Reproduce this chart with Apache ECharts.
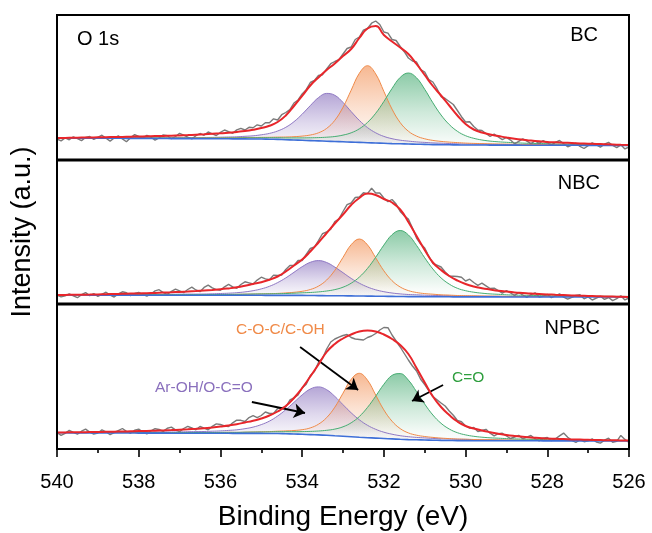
<!DOCTYPE html>
<html><head><meta charset="utf-8">
<script src="https://cdn.jsdelivr.net/npm/echarts@6/dist/echarts.min.js"></script>
<style>html,body{margin:0;padding:0;background:#fff}#c{width:652px;height:533px}</style>
</head><body><div id="c"></div>
<script>
// ---- sampling grids (binding energy, eV) ----
const fitEnergy = [540,539.8,539.6,539.4,539.2,539,538.8,538.6,538.4,538.2,538,537.8,537.6,537.4,537.2,537,536.8,536.6,536.4,536.2,536,535.8,535.6,535.4,535.2,535,534.8,534.6,534.4,534.2,534,533.8,533.6,533.4,533.2,533,532.8,532.6,532.4,532.2,532,531.8,531.6,531.4,531.2,531,530.8,530.6,530.4,530.2,530,529.8,529.6,529.4,529.2,529,528.8,528.6,528.4,528.2,528,527.8,527.6,527.4,527.2,527,526.8,526.6,526.4,526.2,526];
const rawEnergy = [540,539.9,539.8,539.7,539.6,539.5,539.4,539.3,539.2,539.1,
539,538.9,538.8,538.7,538.6,538.5,538.4,538.3,538.2,538.1,
538,537.9,537.8,537.7,537.6,537.5,537.4,537.3,537.2,537.1,
537,536.9,536.8,536.7,536.6,536.5,536.4,536.3,536.2,536.1,
536,535.9,535.8,535.7,535.6,535.5,535.4,535.3,535.2,535.1,
535,534.9,534.8,534.7,534.6,534.5,534.4,534.3,534.2,534.1,
534,533.9,533.8,533.7,533.6,533.5,533.4,533.3,533.2,533.1,
533,532.9,532.8,532.7,532.6,532.5,532.4,532.3,532.2,532.1,
532,531.9,531.8,531.7,531.6,531.5,531.4,531.3,531.2,531.1,
531,530.9,530.8,530.7,530.6,530.5,530.4,530.3,530.2,530.1,
530,529.9,529.8,529.7,529.6,529.5,529.4,529.3,529.2,529.1,
529,528.9,528.8,528.7,528.6,528.5,528.4,528.3,528.2,528.1,
528,527.9,527.8,527.7,527.6,527.5,527.4,527.3,527.2,527.1,
527,526.9,526.8,526.7,526.6,526.5,526.4,526.3,526.2,526.1,
526];
const xTicks = [540,538,536,534,532,530,528,526];

// ---- BC ----
const bcBase = [22.0,22.0,21.9,21.9,21.8,21.8,21.8,21.7,21.7,21.6,21.6,21.6,21.5,21.5,21.4,21.4,21.4,21.3,21.3,21.2,21.2,21.2,21.1,21.1,21.0,21.0,20.8,20.6,20.3,20.0,19.7,19.4,19.1,18.8,18.5,18.2,17.9,17.6,17.3,17.0,16.7,16.4,16.2,16.0,15.8,15.6,15.4,15.3,15.2,15.1,15.0,15.0,15.0,14.9,14.9,14.9,14.9,14.8,14.8,14.8,14.8,14.7,14.7,14.7,14.7,14.6,14.6,14.6,14.6,14.5,14.5];
const bcEnv = [22.0,22.1,22.2,22.4,22.5,22.7,22.8,23.0,23.1,23.3,23.5,23.7,23.9,24.1,24.3,24.6,24.9,25.3,25.7,26.2,26.7,27.3,28.1,29.0,30.3,32.0,34.3,38.0,44.5,54.0,64.0,74.5,82.5,90.0,96.5,104.0,111.0,122.0,131.5,134.0,125.0,118.5,112.5,106.0,96.0,85.0,74.0,64.5,54.5,44.5,36.0,30.5,27.5,25.5,24.0,22.5,21.2,20.2,19.4,18.7,18.1,17.7,17.3,17.0,16.6,16.3,16.0,15.8,15.5,15.2,15.0];
const bcPurple = [0.3,0.3,0.3,0.3,0.3,0.4,0.4,0.4,0.5,0.5,0.5,0.6,0.6,0.7,0.8,0.9,0.9,1.1,1.2,1.4,1.6,1.8,2.1,2.6,3.2,4.2,5.8,8.4,12.4,18.3,26.1,35.0,43.3,47.8,46.2,39.4,30.5,22.0,15.1,10.2,6.9,4.9,3.6,2.9,2.3,2.0,1.7,1.5,1.3,1.1,1.0,0.9,0.8,0.7,0.7,0.6,0.6,0.5,0.5,0.4,0.4,0.4,0.4,0.3,0.3,0.3,0.3,0.3,0.2,0.2,0.2];
const bcOrange = [0.2,0.2,0.2,0.2,0.3,0.3,0.3,0.3,0.3,0.3,0.4,0.4,0.4,0.5,0.5,0.6,0.6,0.7,0.7,0.8,0.9,1.0,1.1,1.3,1.4,1.6,1.9,2.3,2.7,3.3,4.2,5.6,8.1,12.8,21.2,34.5,51.9,69.1,77.0,69.1,51.9,34.5,21.2,12.8,8.1,5.6,4.2,3.3,2.7,2.3,1.9,1.6,1.4,1.3,1.1,1.0,0.9,0.8,0.7,0.7,0.6,0.6,0.5,0.5,0.5,0.4,0.4,0.4,0.3,0.3,0.3];
const bcGreen = [0.2,0.2,0.3,0.3,0.3,0.3,0.3,0.3,0.4,0.4,0.4,0.4,0.5,0.5,0.5,0.6,0.6,0.6,0.7,0.8,0.8,0.9,1.0,1.1,1.2,1.3,1.5,1.7,1.8,2.1,2.4,2.8,3.3,4.0,5.0,6.7,9.3,13.6,20.3,29.7,41.8,55.1,66.4,71.0,66.4,55.1,41.8,29.7,20.3,13.6,9.3,6.7,5.0,4.0,3.3,2.8,2.4,2.1,1.8,1.7,1.5,1.3,1.2,1.1,1.0,0.9,0.8,0.8,0.7,0.7,0.6];
const bcRaw = [21.0,19.1,22.1,20.2,23.2,21.3,19.4,22.5,23.5,20.6,22.7,24.8,21.8,18.9,22.0,24.1,21.1,18.2,22.3,25.4,23.5,21.6,24.7,22.8,19.9,22.0,25.1,24.2,21.3,23.5,26.6,24.8,22.9,21.1,24.3,26.5,24.7,28.0,26.2,24.5,27.7,30.0,28.3,26.7,30.1,31.6,30.0,32.7,32.3,35.2,34.0,37.2,37.3,41.2,40.0,45.3,47.5,50.3,57.0,60.0,66.0,70.3,77.5,79.5,84.5,85.3,91.0,96.3,98.5,100.3,106.0,111.5,113.0,120.5,123.0,129.8,131.5,136.8,139.0,135.5,128.0,126.8,120.5,119.5,113.5,108.3,102.0,99.0,98.0,90.5,88.0,80.5,78.0,71.3,63.5,61.5,58.5,55.5,49.5,43.3,38.0,38.3,33.5,30.0,29.5,26.5,23.5,25.8,23.0,20.3,22.5,19.9,16.2,18.7,21.2,18.8,16.4,19.1,16.7,19.4,17.1,14.9,17.7,19.5,16.3,13.2,15.0,16.8,13.6,11.5,14.3,17.2,15.0,12.9,15.8,17.7,14.5,12.4,15.2,11.1,13.0];

// ---- NBC ----
const nbcBase = [9.0,9.0,9.0,9.0,8.9,8.9,8.9,8.9,8.9,8.9,8.8,8.8,8.8,8.8,8.8,8.8,8.8,8.7,8.7,8.7,8.7,8.7,8.7,8.7,8.7,8.7,8.6,8.6,8.6,8.6,8.6,8.5,8.4,8.3,8.2,8.2,8.1,8.0,7.9,7.8,7.7,7.6,7.5,7.4,7.4,7.3,7.3,7.2,7.2,7.1,7.1,7.1,7.1,7.1,7.1,7.0,7.0,7.0,7.0,7.0,7.0,7.0,7.0,7.0,7.0,7.0,7.0,7.0,7.0,7.0,7.0];
const nbcEnv = [9.0,9.1,9.2,9.3,9.4,9.6,9.8,10.0,10.2,10.4,10.6,10.8,11.1,11.4,11.7,12.1,12.5,13.0,13.6,14.1,14.7,15.6,16.7,18.2,20.0,21.8,24.3,27.5,32.5,38.5,44.5,52.5,61.5,71.0,80.5,89.5,99.0,106.0,110.4,109.0,105.0,101.5,94.5,82.0,68.0,54.0,41.5,34.0,28.0,23.5,20.0,17.5,15.8,14.5,13.3,12.4,11.6,11.0,10.4,10.0,9.6,9.2,8.9,8.6,8.3,8.1,7.8,7.6,7.4,7.2,7.0];
const nbcPurple = [0.3,0.3,0.3,0.3,0.4,0.4,0.4,0.5,0.5,0.5,0.6,0.6,0.7,0.8,0.9,1.0,1.1,1.2,1.3,1.5,1.8,2.1,2.6,3.4,4.6,6.4,9.1,12.8,17.5,23.1,28.7,33.2,35.0,33.2,28.7,23.1,17.5,12.8,9.1,6.4,4.6,3.4,2.6,2.1,1.8,1.5,1.3,1.2,1.1,1.0,0.9,0.8,0.7,0.6,0.6,0.5,0.5,0.5,0.4,0.4,0.4,0.3,0.3,0.3,0.3,0.3,0.2,0.2,0.2,0.2,0.2];
const nbcOrange = [0.2,0.2,0.2,0.2,0.2,0.2,0.2,0.2,0.3,0.3,0.3,0.3,0.3,0.4,0.4,0.4,0.5,0.5,0.6,0.7,0.7,0.8,0.9,1.1,1.2,1.4,1.7,2.0,2.5,3.1,4.1,6.0,9.5,15.7,25.5,38.4,51.2,57.0,51.2,38.4,25.5,15.7,9.5,6.0,4.1,3.1,2.5,2.0,1.7,1.4,1.2,1.1,0.9,0.8,0.7,0.7,0.6,0.5,0.5,0.4,0.4,0.4,0.3,0.3,0.3,0.3,0.3,0.2,0.2,0.2,0.2];
const nbcGreen = [0.2,0.2,0.3,0.3,0.3,0.3,0.3,0.3,0.4,0.4,0.4,0.4,0.5,0.5,0.5,0.6,0.6,0.7,0.7,0.8,0.8,0.9,1.0,1.1,1.3,1.4,1.6,1.7,1.9,2.2,2.6,3.0,3.7,4.7,6.2,8.6,12.7,18.9,27.7,38.9,51.2,61.7,66.0,61.7,51.2,38.9,27.7,18.9,12.7,8.6,6.2,4.7,3.7,3.0,2.6,2.2,1.9,1.7,1.6,1.4,1.3,1.1,1.0,0.9,0.8,0.8,0.7,0.7,0.6,0.6,0.5];
const nbcRaw = [9.0,7.1,8.1,10.2,8.2,6.3,9.3,11.4,8.4,10.5,7.6,9.7,11.8,8.9,7.0,10.1,12.2,11.3,8.4,10.5,11.6,9.7,7.8,10.0,13.1,14.3,11.4,9.6,12.7,14.9,13.1,11.3,14.5,16.8,14.0,12.3,16.6,18.9,16.1,14.4,13.7,17.2,19.6,17.2,15.7,19.5,22.2,21.1,20.0,23.9,26.8,25.1,24.3,28.9,28.5,29.0,34.5,38.5,38.5,43.5,43.5,49.5,55.5,57.0,63.5,70.3,72.0,74.8,82.5,85.0,92.5,99.3,101.0,106.5,107.0,111.2,110.4,115.7,111.0,111.0,106.0,102.3,104.5,100.0,92.5,88.3,85.0,76.0,66.0,60.0,56.0,47.8,40.5,38.8,37.0,32.0,28.0,27.8,27.5,26.8,23.0,24.8,21.5,18.7,20.8,18.2,15.5,15.9,13.3,10.9,13.4,11.0,8.6,11.3,9.0,6.7,9.4,11.2,7.0,7.8,9.6,6.4,8.2,10.1,6.9,4.8,6.6,8.5,9.3,5.2,7.1,4.0,5.8,7.7,4.6,6.5,3.4,5.3,8.2,4.1,6.0];

// ---- NPBC ----
const npbcBase = [16.2,16.2,16.1,16.1,16.1,16.1,16.0,16.0,16.0,16.0,15.9,15.9,15.9,15.9,15.8,15.8,15.8,15.8,15.7,15.7,15.7,15.7,15.6,15.6,15.6,15.6,15.5,15.5,15.3,15.0,14.7,14.4,14.1,13.7,13.2,12.7,12.2,11.7,11.3,10.9,10.5,10.1,9.7,9.4,9.2,9.0,8.8,8.6,8.5,8.4,8.4,8.3,8.3,8.3,8.3,8.2,8.2,8.2,8.2,8.2,8.1,8.1,8.1,8.1,8.1,8.0,8.0,8.0,8.0,8.0,8.0];
const npbcEnv = [16.5,16.6,16.7,16.8,16.9,17.0,17.2,17.3,17.5,17.7,17.9,18.1,18.3,18.6,18.9,19.3,19.7,20.2,20.8,21.6,22.5,23.5,24.8,26.5,28.3,30.5,33.5,37.5,43.0,51.0,61.0,72.5,84.5,97.0,105.0,110.5,114.5,117.5,118.5,117.5,114.5,110.0,104.0,95.0,81.0,66.5,52.5,42.0,34.0,27.5,23.0,20.5,18.5,16.8,15.3,14.0,13.0,12.2,11.5,11.0,10.5,10.2,9.9,9.6,9.4,9.2,9.0,8.8,8.7,8.6,8.5];
const npbcPurple = [0.4,0.4,0.4,0.5,0.5,0.5,0.6,0.6,0.7,0.7,0.8,0.9,1.0,1.1,1.2,1.3,1.5,1.6,1.8,2.1,2.4,2.9,3.6,4.7,6.3,8.8,12.4,17.5,24.0,31.6,39.4,45.6,48.0,45.6,39.4,31.6,24.0,17.5,12.4,8.8,6.3,4.7,3.6,2.9,2.4,2.1,1.8,1.6,1.5,1.3,1.2,1.1,1.0,0.9,0.8,0.7,0.7,0.6,0.6,0.5,0.5,0.5,0.4,0.4,0.4,0.4,0.3,0.3,0.3,0.3,0.3];
const npbcOrange = [0.2,0.2,0.2,0.2,0.2,0.2,0.3,0.3,0.3,0.3,0.3,0.4,0.4,0.4,0.5,0.5,0.6,0.6,0.7,0.8,0.8,1.0,1.0,1.2,1.4,1.6,1.9,2.3,2.8,3.5,4.6,6.7,10.7,17.7,28.6,43.1,57.5,64.0,57.5,43.1,28.6,17.7,10.7,6.7,4.6,3.5,2.8,2.3,1.9,1.6,1.4,1.2,1.0,1.0,0.8,0.8,0.7,0.6,0.6,0.5,0.5,0.4,0.4,0.4,0.3,0.3,0.3,0.3,0.3,0.2,0.2];
const npbcGreen = [0.2,0.2,0.3,0.3,0.3,0.3,0.3,0.3,0.4,0.4,0.4,0.4,0.5,0.5,0.5,0.6,0.6,0.7,0.7,0.8,0.9,0.9,1.0,1.2,1.3,1.4,1.6,1.8,2.0,2.3,2.7,3.2,3.9,5.0,6.7,9.5,14.0,20.8,30.3,41.9,54.2,63.5,65.7,59.5,48.1,35.9,25.2,17.1,11.5,7.9,5.7,4.4,3.5,2.9,2.5,2.2,1.9,1.7,1.5,1.4,1.2,1.1,1.0,0.9,0.8,0.7,0.7,0.6,0.6,0.5,0.5];
const npbcRaw = [16.5,13.6,15.6,18.7,16.7,14.8,17.8,19.9,16.9,15.0,16.0,19.1,17.2,14.3,16.3,18.4,20.5,17.6,15.7,18.8,19.9,17.0,15.1,18.2,20.3,19.5,17.6,20.8,21.9,19.1,17.3,20.5,22.7,21.0,19.2,22.5,20.8,19.2,22.6,25.1,24.5,23.0,22.5,26.2,28.8,28.7,27.5,31.4,33.3,31.4,33.5,37.0,35.5,35.5,40.5,41.3,42.0,49.0,51.0,54.0,61.0,64.8,73.5,77.5,86.5,90.8,100.0,107.0,110.0,111.8,113.5,114.5,111.5,110.0,109.5,109.0,111.5,113.0,115.5,119.0,121.5,121.3,114.0,108.0,102.0,95.5,89.0,83.0,78.0,69.8,64.5,58.5,52.5,49.3,46.0,43.0,38.0,33.8,28.5,27.3,23.0,20.8,21.5,17.5,18.5,19.7,15.8,13.1,15.3,15.7,13.0,10.5,12.0,13.6,10.2,11.9,13.5,10.3,8.0,10.8,11.5,8.4,10.2,13.1,15.9,11.8,8.6,6.5,9.4,7.3,8.2,10.1,7.0,5.9,8.8,10.8,6.7,7.7,13.6,9.6,6.5];

// ---- texts ----
const panelNames = ['BC','NBC','NPBC'];
const coreLevel = 'O 1s';
const peakNames = ['Ar-OH/O-C=O','C-O-C/C-OH','C=O'];
const xTitle = 'Binding Energy (eV)';
const yTitle = 'Intensity (a.u.)';
// annotation arrows [from eV, from intensity, to eV, to intensity] in NPBC panel
const arrowPurple = [535.23, 47, 533.93, 36];
const arrowOrange = [534.05, 102, 532.63, 59];
const arrowGreen = [530.55, 64, 531.31, 48];

const FONT = "'Liberation Sans', Arial, Helvetica, sans-serif";
const L = 57, W = 572;
const tops = [15, 160, 304], heights = [145, 144, 145];

function pts(xs, ys) { return xs.map((x, i) => [x, ys[i]]); }
function add(a, b) { return a.map((v, i) => +(v + b[i]).toFixed(2)); }
function grad(rgb) {
  return new echarts.graphic.LinearGradient(0, 0, 0, 1, [
    { offset: 0, color: 'rgba(' + rgb + ',0.78)' },
    { offset: 0.45, color: 'rgba(' + rgb + ',0.33)' },
    { offset: 0.8, color: 'rgba(' + rgb + ',0.05)' },
    { offset: 1, color: 'rgba(' + rgb + ',0)' }
  ]);
}

const panels = [
  [bcBase, bcEnv, bcPurple, bcOrange, bcGreen, bcRaw],
  [nbcBase, nbcEnv, nbcPurple, nbcOrange, nbcGreen, nbcRaw],
  [npbcBase, npbcEnv, npbcPurple, npbcOrange, npbcGreen, npbcRaw]
];

const series = [];
panels.forEach((pd, p) => {
  const [base, env, purple, orange, green, raw] = pd;
  const ax = { xAxisIndex: p, yAxisIndex: p, silent: true, symbol: 'none', animation: false };
  const peak = (net, line, rgb) => Object.assign({
    type: 'line', data: pts(fitEnergy, add(base, net)), smooth: 0.4, z: 2,
    lineStyle: { color: line, width: 1 }, areaStyle: { color: grad(rgb), origin: 'start' }
  }, ax);
  series.push(peak(purple, '#8f78c4', '120,92,180'));
  series.push(peak(orange, '#f08a48', '240,125,55'));
  series.push(peak(green, '#46ad72', '45,160,95'));
  // white mask below the background line
  series.push(Object.assign({ type: 'line', data: pts(fitEnergy, base), smooth: true, z: 3,
    lineStyle: { width: 0, opacity: 0 }, areaStyle: { color: '#ffffff', opacity: 1, origin: 'start' } }, ax));
  const rawS = Object.assign({ type: 'line', data: pts(rawEnergy, raw), z: 4,
    lineStyle: { color: '#7a7a7a', width: 1.4 } }, ax);
  if (p === 2) {
    rawS.markLine = {
      silent: true, symbol: ['none', 'arrow'], symbolSize: 11, animation: false,
      label: { show: false }, lineStyle: { color: '#000', width: 1.8, type: 'solid' },
      data: [arrowPurple, arrowOrange, arrowGreen].map(a => [{ coord: [a[0], a[1]] }, { coord: [a[2], a[3]] }])
    };
  }
  series.push(rawS);
  series.push(Object.assign({ type: 'line', data: pts(fitEnergy, base), smooth: true, z: 5,
    lineStyle: { color: '#3e6fd8', width: 1.6 } }, ax));
  series.push(Object.assign({ type: 'line', data: pts(fitEnergy, env), smooth: true, z: 6,
    lineStyle: { color: '#e8262b', width: 2 } }, ax));
});

const grids = tops.map((t, i) => ({ left: L, width: W, top: t, height: heights[i], show: false }));
const xAxes = [0, 1, 2].map(i => ({
  gridIndex: i, type: 'value', min: xTicks[xTicks.length - 1], max: xTicks[0], interval: 2, inverse: true,
  show: i === 2,
  axisLine: { show: true, lineStyle: { color: '#000', width: 2 } },
  axisTick: { show: true, inside: false, length: 8, lineStyle: { color: '#000', width: 1.6 } },
  minorTick: { show: true, splitNumber: 2, length: 4, lineStyle: { color: '#000', width: 1.6 } },
  splitLine: { show: false }, minorSplitLine: { show: false },
  axisLabel: { show: true, color: '#000', fontSize: 20, fontFamily: FONT, margin: 23 },
  name: i === 2 ? xTitle : '', nameLocation: 'middle', nameGap: 54,
  nameTextStyle: { color: '#000', fontSize: 28, fontFamily: FONT }
}));
const yAxes = [0, 1, 2].map(i => ({
  gridIndex: i, type: 'value', min: 0, max: heights[i], show: i === 1,
  axisLine: { show: false }, axisTick: { show: false }, axisLabel: { show: false }, splitLine: { show: false },
  name: i === 1 ? yTitle : '', nameLocation: 'middle', nameRotate: 90, nameGap: 21,
  nameTextStyle: { color: '#000', fontSize: 27, fontFamily: FONT }
}));

const txt = (text, x, y, size, color, align) => ({
  type: 'text', x: x, y: y, z: 100, silent: true,
  style: { text: text, fill: color, font: size + 'px ' + FONT, textAlign: align, textVerticalAlign: 'middle' }
});
const frames = tops.map((t, i) => ({
  type: 'rect', z: 100, silent: true, shape: { x: L, y: t, width: W, height: heights[i] },
  style: { fill: 'none', stroke: '#000', lineWidth: 2 }
}));
const graphic = frames.concat([
  { type: 'line', z: 100, silent: true, shape: { x1: L, y1: tops[1], x2: L + W, y2: tops[1] }, style: { stroke: '#000', lineWidth: 3 } },
  { type: 'line', z: 100, silent: true, shape: { x1: L, y1: tops[2], x2: L + W, y2: tops[2] }, style: { stroke: '#000', lineWidth: 3 } },
  txt(coreLevel, 77, 39, 20, '#000', 'left'),
  txt(panelNames[0], 598, 35, 20, '#000', 'right'),
  txt(panelNames[1], 600, 183, 20, '#000', 'right'),
  txt(panelNames[2], 600, 328, 20, '#000', 'right'),
  txt(peakNames[1], 236, 330, 15.5, '#f08a48', 'left'),
  txt(peakNames[0], 155, 388, 15.5, '#8a70bd', 'left'),
  txt(peakNames[2], 452, 378, 15.5, '#2e9e3e', 'left')
]);

const chart = echarts.init(document.getElementById('c'), null, { renderer: 'canvas' });
chart.setOption({
  animation: false,
  backgroundColor: '#fff',
  grid: grids, xAxis: xAxes, yAxis: yAxes,
  series: series,
  graphic: graphic
});
</script></body></html>
